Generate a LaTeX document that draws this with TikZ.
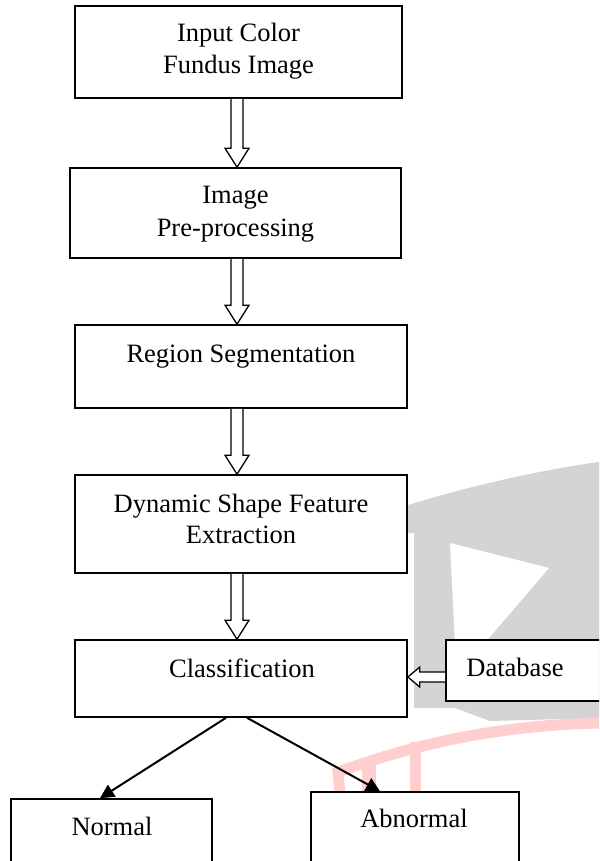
\documentclass[tikz,border=0pt]{standalone}
\usepackage{fontspec}
\setmainfont{Liberation Serif}
\usetikzlibrary{arrows.meta,calc}
\definecolor{wmgray}{RGB}{212,212,212}
\definecolor{wmpink}{RGB}{255,206,206}
\tikzset{
  box/.style={draw=black, line width=1.6pt, fill=white, rectangle, inner sep=0pt},
  lbl/.style={anchor=base, inner sep=0pt, font=\fontsize{26.5}{31}\selectfont},
  hollow/.style={draw=black, line width=1.3pt, fill=white, line join=miter},
  tipline/.style={draw=black, line width=2pt, -{Triangle[length=14pt,width=14pt]}},
}
\newcommand\vblockarrow[2]{%
  \draw[hollow] let \p1=#1, \p2=#2 in
    (\x1-6pt,\y1) -- (\x1-6pt,\y2+19pt) -- (\x1-12pt,\y2+19pt) -- (\x1,\y2)
    -- (\x1+12pt,\y2+19pt) -- (\x1+6pt,\y2+19pt) -- (\x1+6pt,\y1);}
\newcommand\hblockarrow[2]{%
  \draw[hollow] let \p1=#1, \p2=#2 in
    (\x1,\y1+5pt) -- (\x2+12pt,\y1+5pt) -- (\x2+12pt,\y1+10pt) -- (\x2,\y1)
    -- (\x2+12pt,\y1-10pt) -- (\x2+12pt,\y1-5pt) -- (\x1,\y1-5pt);}
\begin{document}
\begin{tikzpicture}[x=1pt,y=-1pt]
\useasboundingbox (0,0) rectangle (599,861);
\clip (0,0) rectangle (599,861);
% watermark
\fill[wmgray] (408,505) .. controls (470,486) and (540,470) .. (599,462)
  -- (599,718) -- (490,721) -- (455,708) -- (414,708) -- (414,533) -- (408,533) -- cycle;
\fill[white] (450,543) -- (549,568) -- (483,645) -- (455,645) -- cycle;
\draw[wmpink, line width=11pt] (341,805) -- (338,772) .. controls (400,750) and (480,726) .. (599,723);
\fill[wmpink] (362,759) rectangle (376,800);
\fill[wmpink] (410,742) rectangle (421,800);
% boxes
\node[box, minimum width=327pt, minimum height=92pt] (b1) at (238.5,52) {};
\node[box, minimum width=331pt, minimum height=90pt] (b2) at (235.5,213) {};
\node[box, minimum width=332pt, minimum height=83pt] (b3) at (241,366.5) {};
\node[box, minimum width=332pt, minimum height=98pt] (b4) at (241,524) {};
\node[box, minimum width=332pt, minimum height=77pt] (b5) at (241,678.5) {};
\node[box, minimum width=184pt, minimum height=61pt] (db) at (538,670.5) {};
\node[box, minimum width=201pt, minimum height=81pt] (nrm) at (111.5,839.5) {};
\node[box, minimum width=208pt, minimum height=88pt] (abn) at (415,836) {};
% labels
\node[lbl] (t1a) at (238.5,42) {Input Color};
\node[lbl] (t1b) at (238.5,73.5) {Fundus Image};
\node[lbl] (t2a) at (235.5,204) {Image};
\node[lbl] (t2b) at (235.5,236) {Pre-processing};
\node[lbl] (t3) at (241,362) {Region Segmentation};
\node[lbl] (t4a) at (241,512) {Dynamic Shape Feature};
\node[lbl] (t4b) at (241,543) {Extraction};
\node[lbl] (t5) at (242,677) {Classification};
\node[lbl] (tdb) at (515,676) {Database};
\node[lbl] (tn) at (112,835) {Normal};
\node[lbl] (ta) at (414,827) {Abnormal};
% connectors
\coordinate (ax) at (237,0);
\coordinate (ay) at (0,677);
\vblockarrow{(b1.south -| ax)}{(b2.north -| ax)}
\vblockarrow{(b2.south -| ax)}{(b3.north -| ax)}
\vblockarrow{(b3.south -| ax)}{(b4.north -| ax)}
\vblockarrow{(b4.south -| ax)}{(b5.north -| ax)}
\hblockarrow{(db.west |- ay)}{(b5.east |- ay)}
\draw[tipline] ($(b5.south)+(-15,0)$) -- ($(nrm.north)+(-11.5,0)$);
\draw[tipline] ($(b5.south)+(6,0)$) -- ($(abn.north)+(-35,0)$);
\end{tikzpicture}
\end{document}
